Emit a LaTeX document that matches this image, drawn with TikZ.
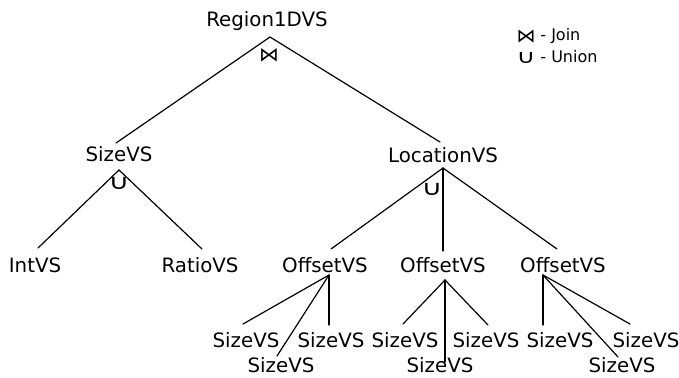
\documentclass[tikz,border=0pt]{standalone}
\usepackage{fontspec}
\setmainfont{DejaVu Sans}
\usetikzlibrary{calc}
\begin{document}
\begin{tikzpicture}[x=0.5pt,y=-0.5pt,
  lbl/.style={anchor=base,inner sep=0pt,font=\fontsize{9.9}{12}\selectfont},
  edge/.style={line width=0.6pt,line cap=round},
  sym/.style={inner sep=0pt,font=\fontsize{9.9}{12}\selectfont},
  usym/.style={inner sep=0pt,xscale=1.35,font=\fontsize{10.5}{12}\selectfont},
  leg/.style={anchor=base west,inner sep=0pt,font=\fontsize{8}{10}\selectfont}]
\useasboundingbox (0,0) rectangle (679,377);
% nodes
\node[lbl] (r)  at (267,26)  {Region1DVS};
\node[lbl] (s)  at (119,161) {SizeVS};
\node[lbl] (l)  at (443,162) {LocationVS};
\node[lbl] (i)  at (35,272)  {IntVS};
\node[lbl] (ra) at (200,272) {RatioVS};
\node[lbl] (o1) at (325,272) {OffsetVS};
\node[lbl] (o2) at (443,272) {OffsetVS};
\node[lbl] (o3) at (563,272) {OffsetVS};
\node[lbl] (a1) at (246,347) {SizeVS};
\node[lbl] (b1) at (281,372) {SizeVS};
\node[lbl] (c1) at (331,347) {SizeVS};
\node[lbl] (a2) at (405,347) {SizeVS};
\node[lbl] (b2) at (440,372) {SizeVS};
\node[lbl] (c2) at (486,347) {SizeVS};
\node[lbl] (a3) at (560,347) {SizeVS};
\node[lbl] (b3) at (622,372) {SizeVS};
\node[lbl] (c3) at (646,347) {SizeVS};
% operator symbols
\node[sym]  (j)  at (269,55)  {⋈};
\node[usym] (u1) at (119,183) {∪};
\node[usym] (u2) at (432,189) {∪};
% legend
\node[inner sep=0pt,font=\fontsize{9.5}{10}\selectfont] (ljs) at (526,37) {⋈};
\node[leg] (lj) at (540,40) {- Join};
\node[inner sep=0pt,xscale=1.35,font=\fontsize{9.5}{10}\selectfont] (lus) at (526,58) {∪};
\node[leg] (lu) at (540,62) {- Union};
% apex points
\coordinate (rA)  at ($(r.base)+(3,11)$);
\coordinate (sA)  at ($(s.base)+(0,9)$);
\coordinate (lA)  at ($(l.base)+(0,6)$);
\coordinate (o1A) at ($(o1.base)+(4,3)$);
\coordinate (o2A) at ($(o2.base)+(2,8)$);
\coordinate (o3A) at ($(o3.base)+(-20,3)$);
% edges
\draw[edge] ($(s.base)+(-3,-18)$) -- (rA) -- ($(l.base)+(-3,-20)$);
\draw[edge] ($(i.base)+(3,-24)$) -- (sA) -- ($(ra.base)+(2,-23)$);
\draw[edge] ($(o1.base)+(6,-23)$) -- (lA) -- ($(o3.base)+(-6,-23)$);
\draw[edge] (lA) -- ($(o2.base)+(0,-21)$);
\draw[edge] (o1A) -- ($(a1.base)+(-3,-23)$);
\draw[edge] (o1A) -- ($(b1.base)+(-4,-16)$);
\draw[edge] (o1A) -- ($(c1.base)+(-2,-22)$);
\draw[edge] (o2A) -- ($(a2.base)+(-2,-23)$);
\draw[edge] (o2A) -- ($(b2.base)+(5,-10)$);
\draw[edge] (o2A) -- ($(c2.base)+(2,-22)$);
\draw[edge] (o3A) -- ($(a3.base)+(-17,-22)$);
\draw[edge] (o3A) -- ($(b3.base)+(-4,-15)$);
\draw[edge] (o3A) -- ($(c3.base)+(-16,-23)$);
\end{tikzpicture}
\end{document}
